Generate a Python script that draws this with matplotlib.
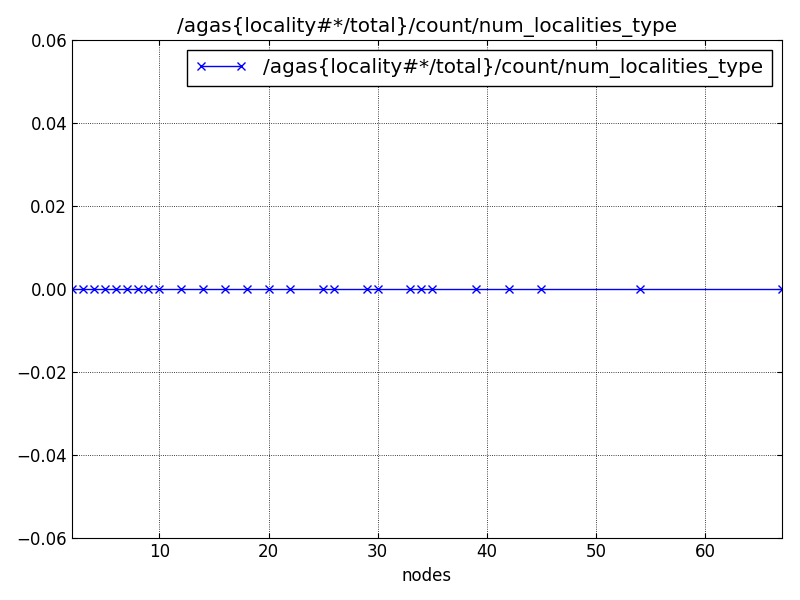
import matplotlib
matplotlib.use("Agg")
import matplotlib.pyplot as plt

nodes = [2,3,4,5,6,7,8,9,10,12,14,16,18,20,22,25,26,29,30,33,34,35,39,42,45,54,67]
values = [0.0]*len(nodes)
label = "/agas{locality#*/total}/count/num_localities_type"

fig, ax = plt.subplots(figsize=(8,6), dpi=100)
fig.subplots_adjust(left=0.09, right=0.977, top=0.933, bottom=0.103)
ax.plot(nodes, values, color='blue', marker='x', markersize=6, linewidth=1, label=label)
ax.set_xlim(2, 67)
ax.set_ylim(-0.06, 0.06)
ax.set_yticks([-0.06,-0.04,-0.02,0,0.02,0.04,0.06])
ax.set_xticks([10,20,30,40,50,60])
ax.grid(True, color='black', linestyle=':', linewidth=0.6)
ax.set_xlabel("nodes", fontsize=12)
ax.set_title(label, fontsize=14.4)
ax.tick_params(labelsize=12, direction='in', top=True, right=True)
leg = ax.legend(loc='upper right', fontsize=14.4, fancybox=False, framealpha=1,
                edgecolor='black', numpoints=2, handlelength=2.6)
leg.get_frame().set_linewidth(1)
fig.savefig("out.png")
